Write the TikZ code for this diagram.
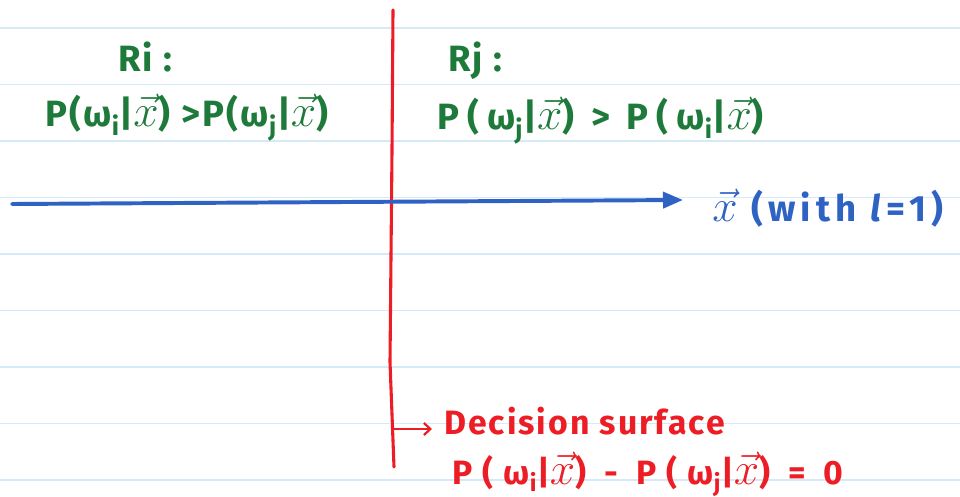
\documentclass[tikz,border=0pt]{standalone}
\usepackage{fontspec}
\setmainfont{Fira Sans}
\usetikzlibrary{arrows.meta,positioning,calc}
\definecolor{Rule}{HTML}{D5EAF8}
\definecolor{Pen}{HTML}{1E7A3A}
\definecolor{Axis}{HTML}{2F63C3}
\definecolor{Cut}{HTML}{EC1D25}
\newcommand{\vx}{\scalebox{1.3}{$\vec{x}$}}
\tikzset{
  ruleline/.style={draw=Rule,line width=1.1pt},
  regiontext/.style={text=Pen,font=\fontsize{26}{28}\selectfont\bfseries\addfontfeatures{LetterSpace=#1},inner sep=0pt,anchor=base west},
  regiontext/.default=0,
  axistext/.style={text=Axis,font=\fontsize{26}{28}\selectfont\bfseries\addfontfeatures{LetterSpace=#1},inner sep=0pt,anchor=base west},
  axistext/.default=0,
  cuttext/.style={text=Cut,font=\fontsize{24}{26}\selectfont\bfseries\addfontfeatures{LetterSpace=#1},inner sep=0pt,anchor=base west},
  cuttext/.default=0,
  axisline/.style={-{Triangle[length=5mm,width=4mm]},draw=Axis,line width=2.8pt,line cap=round},
  cutline/.style={draw=Cut,line width=2.2pt,line cap=round,line join=round},
  cutarrow/.style={-{Straight Barb[length=1.6mm,width=3mm]},draw=Cut,line width=1.6pt}
}
\begin{document}
\begin{tikzpicture}[x=0.025cm,y=-0.025cm]
  \useasboundingbox (0,0) rectangle (960,497);
  % ruled paper
  \foreach \k in {0,...,8}
    \draw[ruleline] (0,28+56.5*\k) -- (960,28+56.5*\k);

  % decision surface
  \coordinate (cuttop) at (393,10);
  \coordinate (cutbend) at (390,362);
  \coordinate (cutbot) at (394,467);
  \draw[cutline] (cuttop) -- (392,150) -- (cutbend) -- (cutbot);

  % feature axis
  \coordinate (axstart) at (12,204);
  \coordinate (axend) at (683,200);
  \draw[axisline] (axstart) -- (axend);
  \node[axistext=14] (xlab) at (712,222) {\vx\ (with \textit{l}=1)};

  % regions
  \node[regiontext=6] (condi) at (45,127) {P(ω\textsubscript{i}|\vx) >P(ω\textsubscript{j}|\vx)};
  \node[regiontext=5] (ri) at (118,72) {Ri :};
  \node[regiontext=22] (condj) at (437,130) {P(ω\textsubscript{j}|\vx) > P(ω\textsubscript{i}|\vx)};
  \node[regiontext=5] (rj) at (448,72) {Rj :};

  % label of the surface
  \node[cuttext=6] (dec) at (444,435) {Decision surface};
  \node[cuttext=30] (deceq) at (452,484) {P(ω\textsubscript{i}|\vx) - P(ω\textsubscript{j}|\vx) = 0};
  \coordinate (cutmark) at (393,429);
  \draw[cutarrow] (cutmark) -- ($(dec.west |- cutmark)+(-12,0)$);
\end{tikzpicture}
\end{document}
